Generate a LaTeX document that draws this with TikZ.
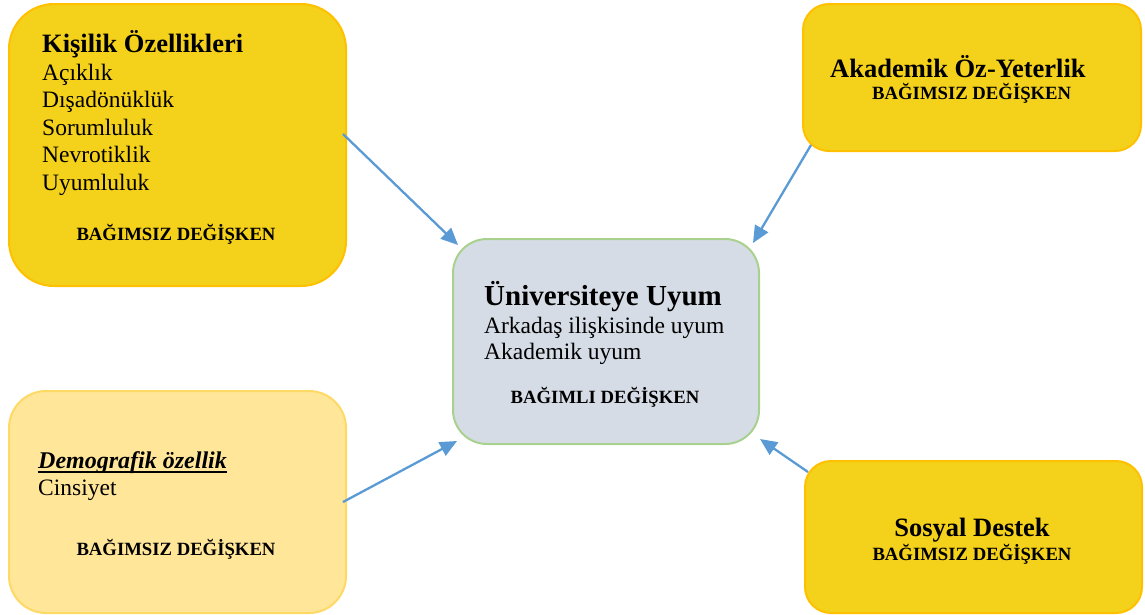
\documentclass[tikz,border=0pt]{standalone}
\usepackage{fontspec}
\setmainfont{Liberation Serif}
\usetikzlibrary{arrows.meta}
\definecolor{gold}{RGB}{244,209,26}
\definecolor{goldline}{RGB}{255,192,0}
\definecolor{pale}{RGB}{255,230,153}
\definecolor{paleline}{RGB}{255,217,102}
\definecolor{grayb}{RGB}{214,220,229}
\definecolor{greenline}{RGB}{169,209,142}
\definecolor{arrowblue}{RGB}{91,155,213}
\newcommand{\titlef}{\fontsize{26.5}{30}\selectfont\bfseries}
\newcommand{\bigtitlef}{\fontsize{29}{33}\selectfont\bfseries}
\newcommand{\bodyf}{\fontsize{23.5}{27}\selectfont}
\newcommand{\smallbf}{\fontsize{18.7}{22}\selectfont\bfseries}
\tikzset{
  box/.style={line width=2pt, rounded corners=#1, inner sep=0pt, anchor=north west},
  goldbox/.style={box=#1, draw=goldline, fill=gold},
  palebox/.style={box=#1, draw=paleline, fill=pale},
  centerbox/.style={box=#1, draw=greenline, fill=grayb},
  txt/.style={inner sep=0pt, anchor=base west, text=black},
  ctxt/.style={inner sep=0pt, anchor=base, text=black},
  link/.style={draw=arrowblue, line width=2.3pt, -{Triangle[length=17pt,width=15pt]}}
}
\begin{document}
\begin{tikzpicture}[x=1pt,y=-1pt]
\useasboundingbox (0,0) rectangle (1145,614);
% boxes
\node[goldbox=45pt, minimum width=337pt, minimum height=282pt] (kis) at (8,3) {};
\node[goldbox=26pt, minimum width=338pt, minimum height=147pt] (aka) at (802,3) {};
\node[centerbox=34pt, minimum width=306pt, minimum height=205pt] (uni) at (452,238) {};
\node[palebox=37pt, minimum width=337pt, minimum height=222pt] (dem) at (8,390) {};
\node[goldbox=26pt, minimum width=337pt, minimum height=152pt] (sos) at (804,460) {};
% Kisilik texts
\node[txt, font=\titlef] (kist) at (42,52) {Kişilik Özellikleri};
\node[txt, font=\bodyf] (k1) at (42,80) {Açıklık};
\node[txt, font=\bodyf] (k2) at (42,107.5) {Dışadönüklük};
\node[txt, font=\bodyf] (k3) at (42,135) {Sorumluluk};
\node[txt, font=\bodyf] (k4) at (42,162.5) {Nevrotiklik};
\node[txt, font=\bodyf] (k5) at (42,190) {Uyumluluk};
\node[ctxt, font=\smallbf] (kb) at (176,240) {BAĞIMSIZ DEĞİŞKEN};
% Akademik
\node[txt, font=\titlef] (akat) at (830,77) {Akademik Öz-Yeterlik};
\node[txt, font=\smallbf] (akab) at (872,99) {BAĞIMSIZ DEĞİŞKEN};
% center
\node[txt, font=\bigtitlef] (unit) at (484,305) {Üniversiteye Uyum};
\node[txt, font=\bodyf] (u1) at (484,333) {Arkadaş ilişkisinde uyum};
\node[txt, font=\bodyf] (u2) at (484,359) {Akademik uyum};
\node[ctxt, font=\smallbf] (ub) at (605,403) {BAĞIMLI DEĞİŞKEN};
% Demografik
\node[txt, font=\fontsize{24}{28}\selectfont\bfseries\itshape] (demt) at (38,468) {Demografik özellik};
\draw[line width=1.8pt] ([yshift=-4pt]demt.base west) -- ([yshift=-4pt]demt.base east);
\node[txt, font=\bodyf] (d1) at (38,495) {Cinsiyet};
\node[ctxt, font=\smallbf] (db) at (176,555) {BAĞIMSIZ DEĞİŞKEN};
% Sosyal
\node[ctxt, font=\titlef] (sost) at (972,536) {Sosyal Destek};
\node[ctxt, font=\smallbf] (sosb) at (972,560) {BAĞIMSIZ DEĞİŞKEN};
% connectors
\draw[link] ([shift={(335,131)}]kis.north west) -- ([shift={(6,7)}]uni.north west);
\draw[link] ([shift={(9,142)}]aka.north west) -- ([shift={(-7,5)}]uni.north east);
\draw[link] ([shift={(335,112)}]dem.north west) -- ([shift={(5,-4)}]uni.south west);
\draw[link] ([shift={(4,12)}]sos.north west) -- ([shift={(0,-6)}]uni.south east);
\end{tikzpicture}
\end{document}
